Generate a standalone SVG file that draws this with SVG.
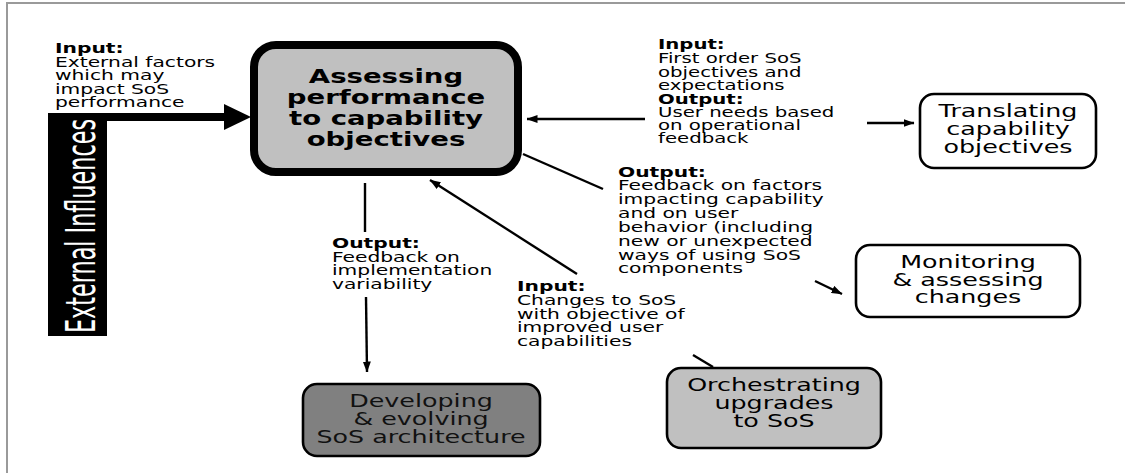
<svg xmlns="http://www.w3.org/2000/svg" width="1125" height="473" viewBox="0 0 1125 473">
<defs>
<style>
.lbl{font-family:"DejaVu Sans","Liberation Sans",sans-serif;font-size:13.5px;fill:#000}
.lbl .b{font-weight:bold}
.nt{font-family:"DejaVu Sans","Liberation Sans",sans-serif;font-size:17.5px;fill:#000;text-anchor:middle}
.mt{font-family:"DejaVu Sans","Liberation Sans",sans-serif;font-size:19px;font-weight:bold;fill:#000;text-anchor:middle}
.box{stroke:#000;stroke-width:2.6}
.con{stroke:#000;stroke-width:2.4;fill:none}
</style>
<marker id="ah" markerUnits="userSpaceOnUse" viewBox="0 0 11 8" refX="10.5" refY="4" markerWidth="11" markerHeight="8" orient="auto">
<path d="M0,0 L11,4 L0,8 z" fill="#000"/>
</marker>
</defs>
<rect width="1125" height="473" fill="#fff"/>
<path d="M7,473 V3 H1125" fill="none" stroke="#9a9a9a" stroke-width="2"/>

<g id="external">
<rect x="48" y="113" width="59" height="223" fill="#000"/>
<text transform="translate(95,226) rotate(-90) scale(1,1.38)" x="0" y="0" text-anchor="middle" textLength="214" lengthAdjust="spacingAndGlyphs" style="font-family:'Liberation Sans Narrow','DejaVu Sans Condensed','Liberation Sans',sans-serif;font-size:30px;fill:#fff">External Influences</text>
</g>

<g id="connectors">
<line x1="106" y1="117" x2="226" y2="117" stroke="#000" stroke-width="8"/>
<polygon points="224,104 251,117 224,130" fill="#000"/>
<line class="con" x1="645" y1="119" x2="527" y2="119" marker-end="url(#ah)"/>
<line class="con" x1="867" y1="123" x2="914" y2="123" marker-end="url(#ah)"/>
<line class="con" x1="523" y1="154" x2="603" y2="189"/>
<line class="con" x1="815" y1="281" x2="842" y2="294" marker-end="url(#ah)"/>
<line class="con" x1="365" y1="183" x2="365" y2="232"/>
<line class="con" x1="366" y1="297" x2="367" y2="372" marker-end="url(#ah)"/>
<line class="con" x1="577" y1="274" x2="430" y2="180" marker-end="url(#ah)"/>
<line class="con" x1="693" y1="355" x2="713" y2="367"/>
</g>

<g id="main">
<rect x="254" y="45" width="264" height="127" rx="22" fill="#c0c0c0" stroke="#000" stroke-width="8"/>
<text class="mt" transform="translate(386,0) scale(1.45,1)"><tspan x="0" y="83">Assessing</tspan><tspan x="0" y="104">performance</tspan><tspan x="0" y="125">to capability</tspan><tspan x="0" y="146">objectives</tspan></text>
</g>

<g id="translating">
<rect class="box" x="920" y="94" width="176" height="74" rx="14" fill="#fff"/>
<text class="nt" transform="translate(1008,0) scale(1.45,1)"><tspan x="0" y="117">Translating</tspan><tspan x="0" y="135">capability</tspan><tspan x="0" y="153">objectives</tspan></text>
</g>

<g id="monitoring">
<rect class="box" x="856" y="245" width="224" height="72" rx="14" fill="#fff"/>
<text class="nt" transform="translate(968,0) scale(1.45,1)"><tspan x="0" y="268">Monitoring</tspan><tspan x="0" y="286">&amp; assessing</tspan><tspan x="0" y="303">changes</tspan></text>
</g>

<g id="orchestrating">
<rect class="box" x="667" y="368" width="214" height="80" rx="14" fill="#c0c0c0"/>
<text class="nt" transform="translate(774,0) scale(1.45,1)"><tspan x="0" y="391">Orchestrating</tspan><tspan x="0" y="409">upgrades</tspan><tspan x="0" y="427">to SoS</tspan></text>
</g>

<g id="developing">
<rect class="box" x="303" y="384" width="237" height="72" rx="14" fill="#808080" stroke="#222"/>
<text class="nt" transform="translate(421,0) scale(1.45,1)" style="fill:#111"><tspan x="0" y="407">Developing</tspan><tspan x="0" y="425">&amp; evolving</tspan><tspan x="0" y="443">SoS architecture</tspan></text>
</g>

<g id="labels">
<text class="lbl" transform="translate(55,0) scale(1.5,1)"><tspan class="b" x="0" y="53">Input:</tspan><tspan x="0" y="67">External factors</tspan><tspan x="0" y="80">which may</tspan><tspan x="0" y="94">impact SoS</tspan><tspan x="0" y="107">performance</tspan></text>
<text class="lbl" transform="translate(658,0) scale(1.46,1)"><tspan class="b" x="0" y="49">Input:</tspan><tspan x="0" y="63">First order SoS</tspan><tspan x="0" y="77">objectives and</tspan><tspan x="0" y="90">expectations</tspan><tspan class="b" x="0" y="104">Output:</tspan><tspan x="0" y="117">User needs based</tspan><tspan x="0" y="130">on operational</tspan><tspan x="0" y="143">feedback</tspan></text>
<text class="lbl" transform="translate(618,0) scale(1.5,1)"><tspan class="b" x="0" y="177">Output:</tspan><tspan x="0" y="190">Feedback on factors</tspan><tspan x="0" y="204">impacting capability</tspan><tspan x="0" y="218">and on user</tspan><tspan x="0" y="232">behavior (including</tspan><tspan x="0" y="246">new or unexpected</tspan><tspan x="0" y="260">ways of using SoS</tspan><tspan x="0" y="273">components</tspan></text>
<text class="lbl" transform="translate(332,0) scale(1.5,1)"><tspan class="b" x="0" y="248">Output:</tspan><tspan x="0" y="262">Feedback on</tspan><tspan x="0" y="275">implementation</tspan><tspan x="0" y="289">variability</tspan></text>
<text class="lbl" transform="translate(517,0) scale(1.5,1)"><tspan class="b" x="0" y="291">Input:</tspan><tspan x="0" y="305">Changes to SoS</tspan><tspan x="0" y="319">with objective of</tspan><tspan x="0" y="332">improved user</tspan><tspan x="0" y="346">capabilities</tspan></text>
</g>
</svg>
